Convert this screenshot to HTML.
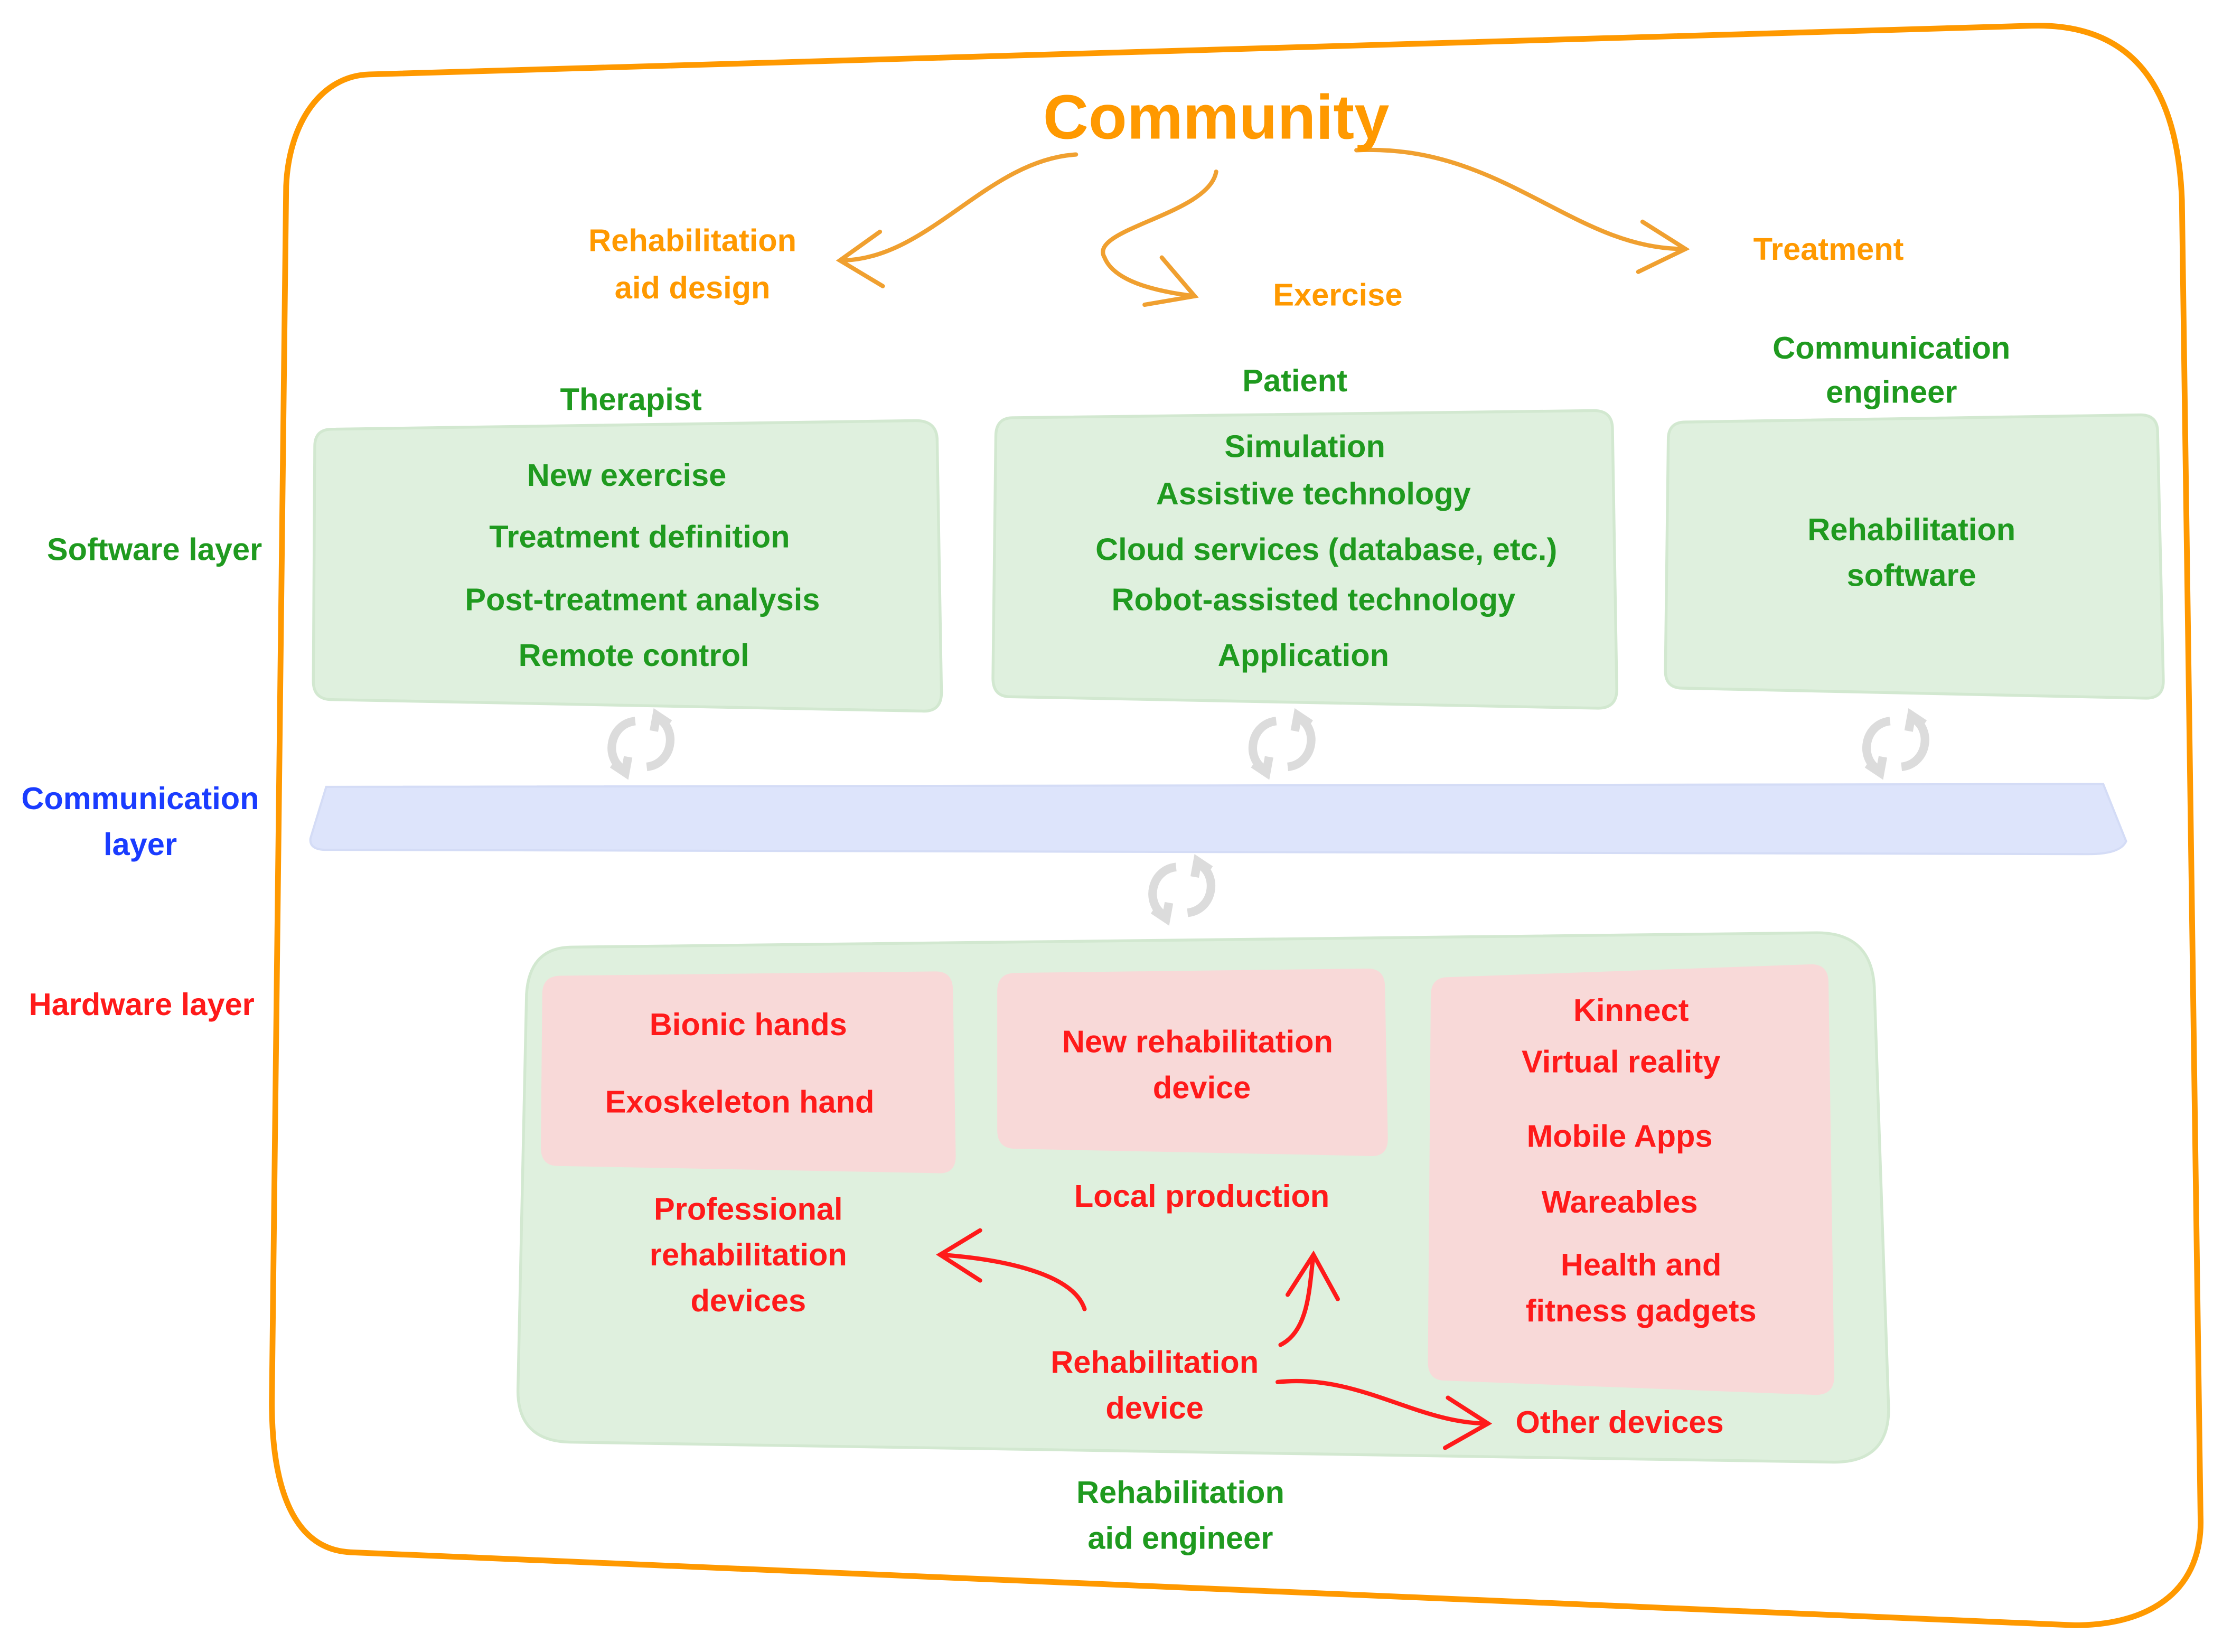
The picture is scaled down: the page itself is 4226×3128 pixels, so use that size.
<!DOCTYPE html>
<html><head><meta charset="utf-8"><style>
html,body{margin:0;padding:0;background:#fff;}
svg{display:block;}
text{font-family:"Liberation Sans",Arial,sans-serif;font-weight:bold;text-anchor:middle;dominant-baseline:central;}
.o{fill:#FF9900;font-size:22px;}
.g{fill:#1f9a1f;font-size:22px;}
.r{fill:#ff1a1a;font-size:22px;}
.b{fill:#1a3cff;font-size:22px;}
</style></head><body>
<svg width="4226" height="3128" viewBox="0 0 1560 1154.7" preserveAspectRatio="none" xmlns="http://www.w3.org/2000/svg">
<defs>
<g id="cyc" fill="none" stroke="#dcdcdc" stroke-width="6" stroke-linecap="butt">
<path d="M-4,-16 C-22,-14 -26,10 -12,18"/>
<path d="M-20,14 L-11,20 L-9,9"/>
<path d="M4,16 C22,14 26,-10 12,-18"/>
<path d="M20,-14 L11,-20 L9,-9"/>
</g>
</defs>
<path d="M258,52 L1420,18 C1490,16 1522,60 1525,140 L1538,1060 C1540,1110 1505,1136 1450,1136 L245,1085 C205,1083 190,1040 190,980 L200,130 C202,85 225,53 258,52 Z" fill="none" stroke="#FF9900" stroke-width="4"/>
<path d="M232,300 L640,294 Q655,294 655,308 L658,484 Q658,498 644,497 L232,489 Q219,489 219,476 L220,312 Q220,300 232,300 Z" fill="#dff0de" stroke="#d2e8d0" stroke-width="2"/>
<path d="M708,292 L1114,287 Q1127,287 1127,300 L1130,482 Q1130,495 1117,495 L706,487 Q694,487 694,474 L696,305 Q696,292 708,292 Z" fill="#dff0de" stroke="#d2e8d0" stroke-width="2"/>
<path d="M1178,295 L1496,290 Q1508,290 1508,302 L1512,476 Q1512,488 1500,488 L1176,481 Q1164,481 1164,469 L1166,307 Q1166,295 1178,295 Z" fill="#dff0de" stroke="#d2e8d0" stroke-width="2"/>
<path d="M228,550 L1470,548 L1486,588 Q1482,597 1460,597 L228,594 Q216,594 217,586 Z" fill="#dde4fb" stroke="#d4dcf6" stroke-width="1.5"/>
<use href="#cyc" transform="translate(448,520)"/>
<use href="#cyc" transform="translate(896,520)"/>
<use href="#cyc" transform="translate(1325,520)"/>
<use href="#cyc" transform="translate(826,622)"/>
<path d="M400,662 L1270,652 Q1308,652 1310,690 L1320,985 Q1320,1022 1282,1022 L398,1008 Q362,1007 362,972 L368,695 Q370,662 400,662 Z" fill="#dff0de" stroke="#d2e8d0" stroke-width="2"/>
<path d="M392,682 L654,679 Q666,679 666,692 L668,808 Q668,821 655,820 L390,815 Q378,815 378,802 L379,695 Q379,682 392,682 Z" fill="#f8d9d8"/>
<path d="M710,680 L956,677 Q968,677 968,690 L970,796 Q970,809 957,808 L710,803 Q697,803 697,790 L697,693 Q697,680 710,680 Z" fill="#f8d9d8"/>
<path d="M1012,683 L1266,674 Q1278,674 1278,687 L1282,962 Q1282,975 1269,975 L1010,965 Q998,965 998,952 L1000,696 Q1000,683 1012,683 Z" fill="#f8d9d8"/>
<g fill="none" stroke="#f0a030" stroke-width="3" stroke-linecap="round">
<path d="M752,108 C690,112 650,180 590,182"/><path d="M615,162 L587,182 L617,200"/>
<path d="M850,120 C845,150 760,160 772,180 C780,200 820,205 835,207"/><path d="M812,180 L835,207 L800,213"/>
<path d="M948,105 C1050,100 1100,175 1178,174"/><path d="M1148,155 L1178,174 L1145,190"/>
</g>
<g fill="none" stroke="#ff1a1a" stroke-width="3" stroke-linecap="round">
<path d="M758,915 C750,890 700,880 657,877"/><path d="M685,860 L657,877 L685,895"/>
<path d="M895,940 C915,930 915,900 918,877"/><path d="M900,905 L918,877 L935,908"/>
<path d="M893,966 C950,960 990,995 1040,995"/><path d="M1012,977 L1040,995 L1010,1012"/>
</g>
<text x="850" y="82" style="fill:#FF9900;font-size:44px">Community</text>
<text class="o" x="484" y="168">Rehabilitation</text>
<text class="o" x="484" y="201">aid design</text>
<text class="o" x="935" y="206">Exercise</text>
<text class="o" x="1278" y="174">Treatment</text>
<text class="g" x="441" y="279">Therapist</text>
<text class="g" x="905" y="266">Patient</text>
<text class="g" x="1322" y="243">Communication</text>
<text class="g" x="1322" y="274">engineer</text>
<text class="g" x="438" y="332">New exercise</text>
<text class="g" x="447" y="375">Treatment definition</text>
<text class="g" x="449" y="419">Post-treatment analysis</text>
<text class="g" x="443" y="458">Remote control</text>
<text class="g" x="912" y="312">Simulation</text>
<text class="g" x="918" y="345">Assistive technology</text>
<text class="g" x="927" y="384">Cloud services (database, etc.)</text>
<text class="g" x="918" y="419">Robot-assisted technology</text>
<text class="g" x="911" y="458">Application</text>
<text class="g" x="1336" y="370">Rehabilitation</text>
<text class="g" x="1336" y="402">software</text>
<text class="g" x="108" y="384">Software layer</text>
<text class="b" x="98" y="558">Communication</text>
<text class="b" x="98" y="590">layer</text>
<text class="r" x="99" y="702">Hardware layer</text>
<text class="r" x="523" y="716">Bionic hands</text>
<text class="r" x="517" y="770">Exoskeleton hand</text>
<text class="r" x="837" y="728">New rehabilitation</text>
<text class="r" x="840" y="760">device</text>
<text class="r" x="1140" y="706">Kinnect</text>
<text class="r" x="1133" y="742">Virtual reality</text>
<text class="r" x="1132" y="794">Mobile Apps</text>
<text class="r" x="1132" y="840">Wareables</text>
<text class="r" x="1147" y="884">Health and</text>
<text class="r" x="1147" y="916">fitness gadgets</text>
<text class="r" x="523" y="845">Professional</text>
<text class="r" x="523" y="877">rehabilitation</text>
<text class="r" x="523" y="909">devices</text>
<text class="r" x="840" y="836">Local production</text>
<text class="r" x="807" y="952">Rehabilitation</text>
<text class="r" x="807" y="984">device</text>
<text class="r" x="1132" y="994">Other devices</text>
<text class="g" x="825" y="1043">Rehabilitation</text>
<text class="g" x="825" y="1075">aid engineer</text>
</svg>
</body></html>
